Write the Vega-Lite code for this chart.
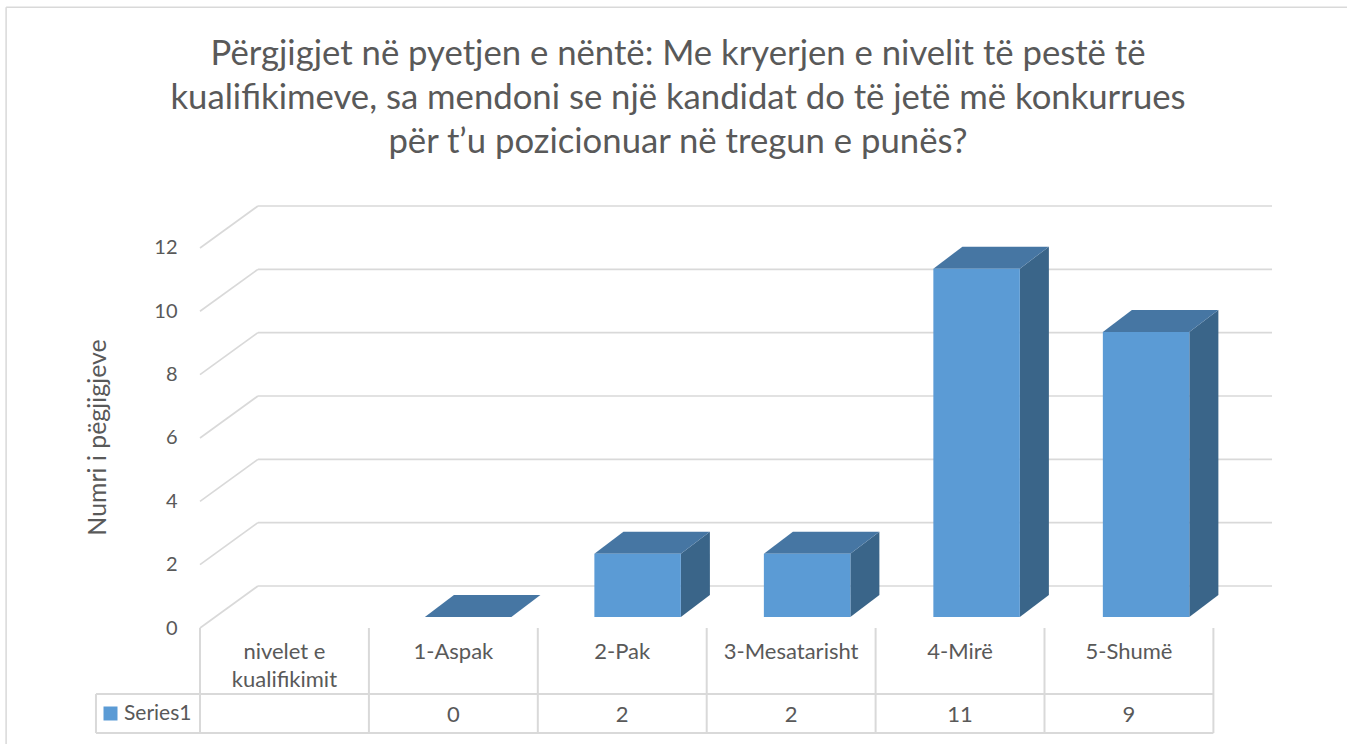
{
"$schema":"https://vega.github.io/schema/vega-lite/v6.json",
"width":1072,"height":423,
"autosize":{"type":"none"},
"padding":{"left":200,"top":205,"right":75,"bottom":116},
"background":"white",
"title":{"text":["Përgjigjet në pyetjen e nëntë: Me kryerjen e nivelit të pestë të","kualifikimeve, sa mendoni se një kandidat do të jetë më konkurrues","për t’u pozicionuar në tregun e punës?"],"font":"Lato","fontSize":34.7,"fontWeight":"normal","color":"#595959","lineHeight":44,"anchor":"middle","frame":"group","dx":-58,"offset":-154},
"config":{"view":{"stroke":null},"text":{"font":"Lato","fontSize":22,"fill":"#595959"}},
"datasets":{
"answers":[
{"category":"nivelet e\nkualifikimit","pos":0,"value":null,"series":"Series1"},
{"category":"1-Aspak","pos":1,"value":0,"series":"Series1"},
{"category":"2-Pak","pos":2,"value":2,"series":"Series1"},
{"category":"3-Mesatarisht","pos":3,"value":2,"series":"Series1"},
{"category":"4-Mirë","pos":4,"value":11,"series":"Series1"},
{"category":"5-Shumë","pos":5,"value":9,"series":"Series1"}],
"levels":[{"level":0},{"level":2},{"level":4},{"level":6},{"level":8},{"level":10},{"level":12}],
"columns":[{"col":0},{"col":1},{"col":2},{"col":3},{"col":4},{"col":5},{"col":6}],
"tablelines":[{"rowline":-2.084},{"rowline":-3.315}]
},
"layer":[
{"data":{"name":"levels"},"transform":[{"calculate":"datum.level+1.326","as":"back"},{"calculate":"0.343","as":"a"},{"calculate":"6.347","as":"b"}],
 "mark":{"type":"rule","stroke":"#D9D9D9","strokeWidth":1.7},
 "encoding":{"x":{"field":"a","type":"quantitative","scale":{"domain":[0,6.347],"nice":false,"zero":false},"axis":null},"x2":{"field":"b"},
  "y":{"field":"back","type":"quantitative","scale":{"domain":[0,13.357],"nice":false,"zero":false},"axis":{"values":[0,2,4,6,8,10,12],"grid":false,"domain":false,"ticks":false,"labelPadding":23,"labelFont":"Lato","labelFontSize":20,"labelColor":"#595959","title":"Numri i pëgjigjeve","titleFont":"Lato","titleFontSize":24.9,"titleFontWeight":"normal","titleColor":"#595959","titleX":-90,"titleY":232}}}},
{"data":{"name":"levels"},"transform":[{"calculate":"datum.level+1.326","as":"back"},{"calculate":"0","as":"a"},{"calculate":"0.343","as":"b"}],
 "mark":{"type":"rule","stroke":"#D9D9D9","strokeWidth":1.7},
 "encoding":{"x":{"field":"a","type":"quantitative"},"x2":{"field":"b"},"y":{"field":"level","type":"quantitative"},"y2":{"field":"back"}}},
{"data":{"name":"answers"},"transform":[{"filter":"isValid(datum.value)"},{"calculate":"[0,1]","as":"k"},{"flatten":["k"]},{"calculate":"datum.pos*1.0035+0.84+datum.k*0.172","as":"sx"},{"calculate":"0.347+datum.k*0.694","as":"sy"},{"calculate":"datum.sy+datum.value","as":"sy2"}],
 "mark":{"type":"area","orient":"vertical","fill":"#3A6589"},
 "encoding":{"x":{"field":"sx","type":"quantitative"},"y":{"field":"sy","type":"quantitative"},"y2":{"field":"sy2"},"detail":{"field":"category"}}},
{"data":{"name":"answers"},"transform":[{"filter":"isValid(datum.value)"},{"calculate":"[0,1]","as":"k"},{"flatten":["k"]},{"calculate":"datum.pos*1.0035+0.328+datum.k*0.172","as":"tx"},{"calculate":"datum.tx+0.512","as":"tx2"},{"calculate":"datum.value+0.347+datum.k*0.694","as":"ty"}],
 "mark":{"type":"area","orient":"horizontal","fill":"#4676A3"},
 "encoding":{"y":{"field":"ty","type":"quantitative"},"x":{"field":"tx","type":"quantitative"},"x2":{"field":"tx2"},"detail":{"field":"category"}}},
{"data":{"name":"answers"},"transform":[{"filter":"isValid(datum.value)"},{"calculate":"datum.pos*1.0035+0.328","as":"fx"},{"calculate":"datum.fx+0.512","as":"fx2"},{"calculate":"0.347","as":"fy0"},{"calculate":"datum.value+0.347","as":"fy"}],
 "mark":{"type":"rect"},
 "encoding":{"x":{"field":"fx","type":"quantitative"},"x2":{"field":"fx2"},"y":{"field":"fy0","type":"quantitative"},"y2":{"field":"fy"},
  "color":{"field":"series","type":"nominal","scale":{"range":["#5B9BD5"]},"legend":{"orient":"none","legendX":-100,"legendY":498,"title":null,"symbolType":"square","symbolSize":196,"symbolStrokeWidth":0,"labelFont":"Lato","labelFontSize":21,"labelColor":"#595959","labelOffset":3,"padding":0}}}},
{"data":{"name":"columns"},"transform":[{"calculate":"0","as":"t"},{"calculate":"-3.315","as":"u"}],
 "mark":{"type":"rule","stroke":"#D9D9D9","strokeWidth":2},
 "encoding":{"x":{"field":"col","type":"quantitative"},"y":{"field":"t","type":"quantitative"},"y2":{"field":"u"}}},
{"data":{"name":"tablelines"},"transform":[{"calculate":"-0.616","as":"a"},{"calculate":"6","as":"b"}],
 "mark":{"type":"rule","stroke":"#D9D9D9","strokeWidth":2},
 "encoding":{"x":{"field":"a","type":"quantitative"},"x2":{"field":"b"},"y":{"field":"rowline","type":"quantitative"}}},
{"data":{"values":[{"xpos":-0.616,"top":-2.084,"bottom":-3.315}]},
 "mark":{"type":"rule","stroke":"#D9D9D9","strokeWidth":2},
 "encoding":{"x":{"field":"xpos","type":"quantitative"},"y":{"field":"top","type":"quantitative"},"y2":{"field":"bottom"}}},
{"data":{"values":[{"xpos":-1.148,"top":19.6,"bottom":-3.69}]},
 "mark":{"type":"rule","stroke":"#D9D9D9","strokeWidth":1.5},
 "encoding":{"x":{"field":"xpos","type":"quantitative"},"y":{"field":"top","type":"quantitative"},"y2":{"field":"bottom"}}},
{"data":{"values":[{"left":-1.148,"right":6.8,"top":19.6}]},
 "mark":{"type":"rule","stroke":"#D9D9D9","strokeWidth":1.5},
 "encoding":{"x":{"field":"left","type":"quantitative"},"x2":{"field":"right"},"y":{"field":"top","type":"quantitative"}}},
{"data":{"name":"answers"},"transform":[{"calculate":"datum.pos+0.5","as":"mid"},{"calculate":"-0.758","as":"ly"}],
 "mark":{"type":"text","lineBreak":"\n","lineHeight":28,"baseline":"middle"},
 "encoding":{"x":{"field":"mid","type":"quantitative"},"y":{"field":"ly","type":"quantitative"},"text":{"field":"category"}}},
{"data":{"name":"answers"},"transform":[{"filter":"isValid(datum.value)"},{"calculate":"datum.pos+0.5","as":"mid"},{"calculate":"-2.745","as":"ly"}],
 "mark":{"type":"text","baseline":"middle"},
 "encoding":{"x":{"field":"mid","type":"quantitative"},"y":{"field":"ly","type":"quantitative"},"text":{"field":"value","type":"quantitative"}}}
]
}
